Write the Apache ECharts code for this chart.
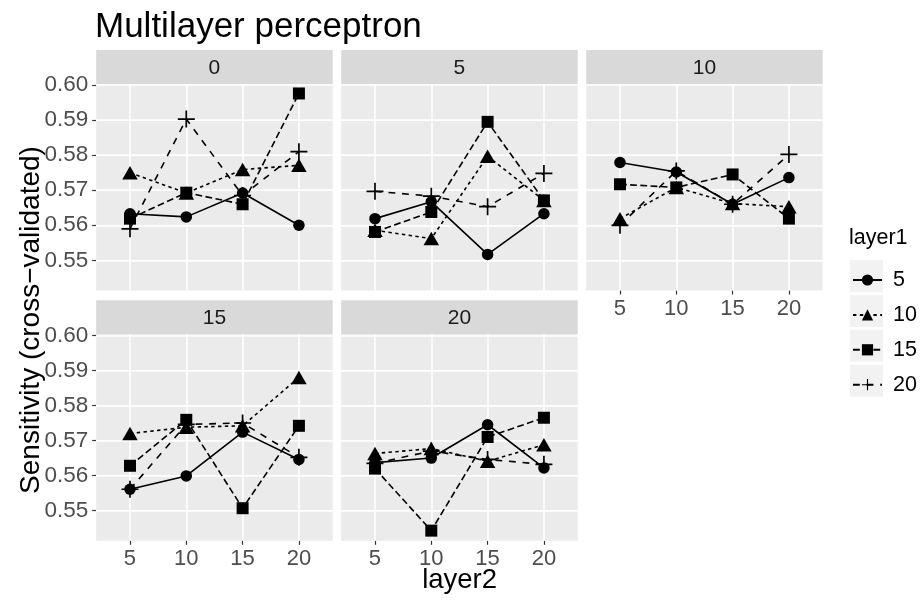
<!DOCTYPE html>
<html><head><meta charset="utf-8">
<script src="https://cdn.jsdelivr.net/npm/echarts@6/dist/echarts.min.js"></script>
<style>html,body{margin:0;padding:0;background:#fff}#c{width:924px;height:600px}</style>
</head><body><div id="c"></div>
<script>
// ---- data ----
const layer2 = [5, 10, 15, 20];
const facetLabels = ['0', '5', '10', '15', '20'];
const layer1Labels = ['5', '10', '15', '20'];
const yTicks = [0.55, 0.56, 0.57, 0.58, 0.59, 0.60];
const yMinor = [0.545, 0.555, 0.565, 0.575, 0.585, 0.595];
// rows: layer1 = 5, 10, 15, 20 ; columns: layer2 = 5, 10, 15, 20
const f0  = [[0.5633, 0.5624, 0.5692, 0.5600],
             [0.5750, 0.5692, 0.5759, 0.5771],
             [0.5619, 0.5693, 0.5660, 0.5976],
             [0.5590, 0.5903, 0.5685, 0.5810]];
const f5  = [[0.5619, 0.5667, 0.5517, 0.5633],
             [0.5586, 0.5562, 0.5797, 0.5671],
             [0.5581, 0.5638, 0.5895, 0.5671],
             [0.5697, 0.5683, 0.5653, 0.5748]];
const f10 = [[0.5779, 0.5752, 0.5660, 0.5736],
             [0.5619, 0.5708, 0.5662, 0.5653],
             [0.5717, 0.5708, 0.5745, 0.5619],
             [0.5600, 0.5755, 0.5660, 0.5802]];
const f15 = [[0.5561, 0.5599, 0.5724, 0.5646],
             [0.5720, 0.5738, 0.5742, 0.5880],
             [0.5628, 0.5759, 0.5507, 0.5742],
             [0.5561, 0.5746, 0.5750, 0.5652]];
const f20 = [[0.5637, 0.5650, 0.5745, 0.5622],
             [0.5663, 0.5677, 0.5641, 0.5688],
             [0.5620, 0.5443, 0.5710, 0.5765],
             [0.5635, 0.5670, 0.5646, 0.5632]];
const facetValues = [f0, f5, f10, f15, f20];

// ---- layout / style ----
const FONT = '"Liberation Sans", Arial, sans-serif';
const PW = 236.5, PH = 206.5, STRIP = 34;
const panels = [
  {left: 96.2,  top: 84,    showY: true,  showX: false},
  {left: 341.2, top: 84,    showY: false, showX: false},
  {left: 586.2, top: 84,    showY: false, showX: true},
  {left: 96.2,  top: 334.3, showY: true,  showX: true},
  {left: 341.2, top: 334.3, showY: false, showX: true}
];
const X_MIN = 2, X_MAX = 23;
const Y_MIN = 0.5414, Y_MAX = 0.6003;
const PLUS = 'path://M-0.1,-1L0.1,-1L0.1,-0.1L1,-0.1L1,0.1L0.1,0.1L0.1,1L-0.1,1L-0.1,0.1L-1,0.1L-1,-0.1L-0.1,-0.1Z';
const symbols = ['circle', 'triangle', 'rect', PLUS];
const symbolSizes = [11.5, [15.5, 13.5], 12, 17];
const dashes = ['solid', [3.4, 3.4], [6.8, 3.4], [6.8, 6.8]];

const grids = [], xAxes = [], yAxes = [], series = [], graphics = [];
const major = {color: '#ffffff', width: 1.6, type: 'solid'};
const minor = {color: '#ffffff', width: 1.0, type: 'solid'};

panels.forEach((p, pi) => {
  grids.push({left: p.left, top: p.top, width: PW, height: PH, show: true,
    backgroundColor: '#ebebeb', borderWidth: 0, containLabel: false});
  xAxes.push({type: 'value', gridIndex: pi, min: X_MIN, max: X_MAX,
    axisLine: {show: false}, splitLine: {show: false},
    axisTick: {show: p.showX, customValues: layer2, length: 4, lineStyle: {color: '#333333', width: 1.2}},
    axisLabel: {show: p.showX, customValues: layer2, margin: 7, fontSize: 22, color: '#4d4d4d', fontFamily: FONT}});
  yAxes.push({type: 'value', gridIndex: pi, min: Y_MIN, max: Y_MAX,
    axisLine: {show: false}, splitLine: {show: false},
    axisTick: {show: p.showY, customValues: yTicks, length: 4, lineStyle: {color: '#333333', width: 1.2}},
    axisLabel: {show: p.showY, customValues: yTicks, margin: 8, fontSize: 22.5, color: '#4d4d4d', fontFamily: FONT,
      formatter: v => v.toFixed(2)}});
  // grid lines (helper)
  series.push({type: 'line', xAxisIndex: pi, yAxisIndex: pi, data: [], silent: true, z: 1, animation: false,
    markLine: {silent: true, z: 1, symbol: ['none', 'none'], animation: false, label: {show: false},
      emphasis: {disabled: true},
      data: [].concat(
        yMinor.map(v => ({yAxis: v, lineStyle: minor})),
        yTicks.map(v => ({yAxis: v, lineStyle: major})),
        layer2.map(v => ({xAxis: v, lineStyle: major})))}});
  facetValues[pi].forEach((row, li) => {
    series.push({type: 'line', name: layer1Labels[li], xAxisIndex: pi, yAxisIndex: pi,
      data: layer2.map((x, i) => [x, row[i]]),
      symbol: symbols[li], symbolSize: symbolSizes[li], showSymbol: true,
      lineStyle: {color: '#000', width: 1.6, type: dashes[li]},
      itemStyle: {color: '#000', borderWidth: 0},
      animation: false, silent: true, z: 3});
  });
  // strip
  graphics.push({type: 'rect', shape: {x: p.left, y: p.top - STRIP, width: PW, height: STRIP},
    style: {fill: '#d9d9d9'}, silent: true});
  graphics.push({type: 'text', x: p.left + PW / 2, y: p.top - STRIP / 2 + 1, silent: true,
    style: {text: facetLabels[pi], fill: '#1a1a1a', fontSize: 21, fontFamily: FONT,
      textAlign: 'center', textVerticalAlign: 'middle', align: 'center', verticalAlign: 'middle'}});
});

// axis titles
graphics.push({type: 'text', x: 459.6, y: 580.5, silent: true,
  style: {text: 'layer2', fill: '#000', fontSize: 27.5, fontFamily: FONT,
    textAlign: 'center', textVerticalAlign: 'middle', align: 'center', verticalAlign: 'middle'}});
graphics.push({type: 'text', x: 31, y: 320, rotation: Math.PI / 2, silent: true,
  style: {text: 'Sensitivity (cross\u2212validated)', fill: '#000', fontSize: 28, fontFamily: FONT,
    textAlign: 'center', textVerticalAlign: 'middle', align: 'center', verticalAlign: 'middle'}});
// legend title and key backgrounds
graphics.push({type: 'text', x: 849, y: 238, silent: true,
  style: {text: 'layer1', fill: '#000', fontSize: 21.5, fontFamily: FONT,
    textAlign: 'left', textVerticalAlign: 'middle', align: 'left', verticalAlign: 'middle'}});
const KEY_TOP = 260, KEY_PITCH = 34.9, KEY_H = 32, ITEM_H = 14;
const legends = layer1Labels.map((name, i) => {
  graphics.push({type: 'rect', shape: {x: 850, y: KEY_TOP + i * KEY_PITCH, width: 33, height: KEY_H},
    style: {fill: '#f2f2f2'}, silent: true, z: -1});
  return {data: [name], orient: 'vertical', left: 852,
    top: KEY_TOP + i * KEY_PITCH + KEY_H / 2 - ITEM_H / 2, padding: 0,
    itemWidth: 29, itemHeight: ITEM_H, selectedMode: false,
    textStyle: {fontSize: 21.5, color: '#000', fontFamily: FONT, lineHeight: ITEM_H, padding: [0, 0, 0, 6]}};
});

const chart = echarts.init(document.getElementById('c'), null, {renderer: 'canvas'});
chart.setOption({
  backgroundColor: '#ffffff',
  animation: false,
  title: {text: 'Multilayer perceptron', left: 95, top: 10, padding: 0,
    textStyle: {fontSize: 35, fontWeight: 'normal', color: '#000', fontFamily: FONT}},
  grid: grids, xAxis: xAxes, yAxis: yAxes, series: series,
  legend: legends,
  graphic: {elements: graphics}
});
</script></body></html>
